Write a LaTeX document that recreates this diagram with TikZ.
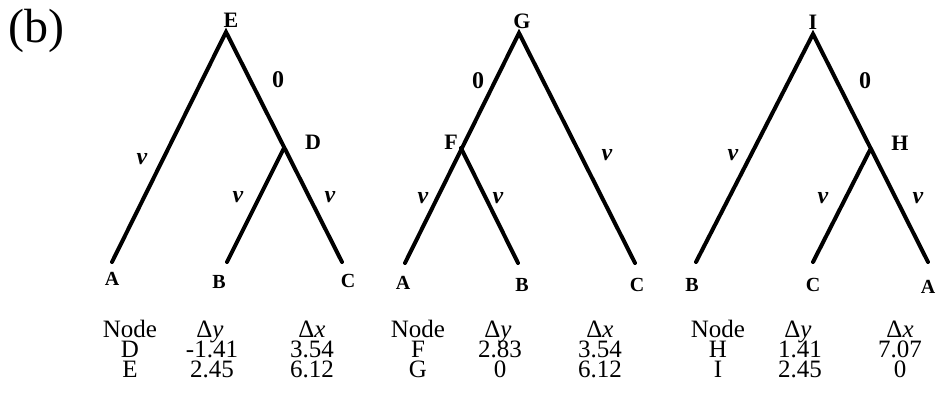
\documentclass[tikz,border=0pt]{standalone}
\usepackage{fontspec}
\setmainfont{Liberation Serif}

\begin{document}
\begin{tikzpicture}[x=1pt, y=-1pt,
    branch/.style={line width=4pt, line cap=round, line join=miter},
    leaflabel/.style={font=\fontsize{20}{20}\selectfont\bfseries},
    nodelabel/.style={font=\fontsize{22}{22}\selectfont\bfseries},
    len/.style={font=\fontsize{24}{24}\selectfont\bfseries},
    tab/.style={font=\fontsize{25}{25}\selectfont, anchor=base, inner sep=0pt,
        text height=16pt, text depth=1pt}]
    \useasboundingbox (0,0) rectangle (939,398);
    \node[font=\fontsize{48}{48}\selectfont] (tag) at (36,31) {(b)};
    % first tree
    \coordinate (E1) at (226,32);
    \coordinate (D1) at (284,148);
    \coordinate (A1) at (112,262);
    \coordinate (B1) at (227,262);
    \coordinate (C1) at (342,262);
    \draw[branch] (A1) -- (E1) -- (C1);
    \draw[branch] (D1) -- (B1);
    \node[nodelabel] (lE1) at (231,20) {E};
    \node[nodelabel] (lD1) at (313,142) {D};
    \node[len] (z1) at (278,80) {0};
    \node[len] (v11) at (142,159) {\itshape v};
    \node[len] (v12) at (238,197) {\itshape v};
    \node[len] (v13) at (330,197) {\itshape v};
    \node[leaflabel] (lA1) at (112,279) {A};
    \node[leaflabel] (lB1) at (219,282) {B};
    \node[leaflabel] (lC1) at (348,281) {C};
    % second tree
    \coordinate (G2) at (519,33);
    \coordinate (F2) at (461,148);
    \coordinate (A2) at (405,263);
    \coordinate (B2) at (518,263);
    \coordinate (C2) at (635,263);
    \draw[branch] (A2) -- (G2) -- (C2);
    \draw[branch] (F2) -- (B2);
    \node[nodelabel] (lG2) at (522,21) {G};
    \node[nodelabel] (lF2) at (451,142) {F};
    \node[len] (z2) at (478,81) {0};
    \node[len] (v21) at (607,155) {\itshape v};
    \node[len] (v22) at (423,198) {\itshape v};
    \node[len] (v23) at (498,198) {\itshape v};
    \node[leaflabel] (lA2) at (403,283) {A};
    \node[leaflabel] (lB2) at (522,285) {B};
    \node[leaflabel] (lC2) at (637,285) {C};
    % third tree
    \coordinate (I3) at (813,34);
    \coordinate (H3) at (870,150);
    \coordinate (B3) at (696,262);
    \coordinate (C3) at (813,262);
    \coordinate (A3) at (928,262);
    \draw[branch] (B3) -- (I3) -- (A3);
    \draw[branch] (H3) -- (C3);
    \node[nodelabel] (lI3) at (813,22) {I};
    \node[nodelabel] (lH3) at (900,143) {H};
    \node[len] (z3) at (865,81) {0};
    \node[len] (v31) at (733,155) {\itshape v};
    \node[len] (v32) at (823,198) {\itshape v};
    \node[len] (v33) at (918,198) {\itshape v};
    \node[leaflabel] (lB3) at (692,285) {B};
    \node[leaflabel] (lC3) at (813,285) {C};
    \node[leaflabel] (lA3) at (928,287) {A};
    % tables
    \foreach \x/\n/\dy/\dx [count=\i] in {130/Node/Δ\textit{y}/Δ\textit{x}, 418/Node/Δ\textit{y}/Δ\textit{x}, 718/Node/Δ\textit{y}/Δ\textit{x}} {
        \node[tab] (hn\i) at (\x,337) {\n};
        \node[tab] (hy\i) at (\x+80,337) {\dy};
        \node[tab] (hx\i) at (\x+182,337) {\dx};
    }
    \foreach \x/\y/\n/\dy/\dx [count=\i] in {130/357/D/-1.41/3.54, 130/377/E/2.45/6.12, 418/357/F/2.83/3.54, 418/377/G/0/6.12, 718/357/H/1.41/7.07, 718/377/I/2.45/0} {
        \node[tab] (rn\i) at (\x,\y) {\n};
        \node[tab] (ry\i) at (\x+82,\y) {\dy};
        \node[tab] (rx\i) at (\x+182,\y) {\dx};
    }
\end{tikzpicture}
\end{document}
